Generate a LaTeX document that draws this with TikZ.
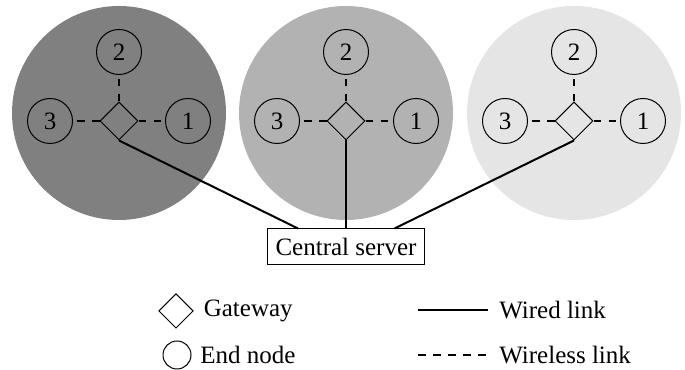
\documentclass[tikz,border=0pt]{standalone}
\usepackage{fontspec}
\setmainfont{Liberation Serif}
\usetikzlibrary{shapes.geometric,positioning}

\begin{document}
\begin{tikzpicture}[x=0.4pt,y=0.4pt,
    zone/.style={circle,minimum size=85.6pt,inner sep=0pt},
    gateway/.style={diamond,draw,thin,minimum size=15.2pt,inner sep=0pt},
    endnode/.style={circle,draw,thin,minimum size=18pt,inner sep=0pt},
    wired/.style={thick},
    wireless/.style={thick,dashed}]
  \useasboundingbox (0,0) rectangle (685,370);
  % coverage areas
  \node[zone,fill=black!50] (za) at (119,257) {};
  \node[zone,fill=black!30] (zb) at (346,257) {};
  \node[zone,fill=black!10] (zc) at (574,257) {};
  % cluster a
  \draw
    (119,249) node[gateway] (ga){}
    (188,249) node[endnode] (a1){1}
    (119,318) node[endnode] (a2){2}
    (50,249) node[endnode] (a3){3};
  % cluster b
  \draw
    (346,249) node[gateway] (gb){}
    (416,249) node[endnode] (b1){1}
    (346,318) node[endnode] (b2){2}
    (277,249) node[endnode] (b3){3};
  % cluster c
  \draw
    (574,249) node[gateway] (gc){}
    (643,249) node[endnode] (c1){1}
    (574,318) node[endnode] (c2){2}
    (505,249) node[endnode] (c3){3};
  \node[draw,thin,minimum height=14.4pt] (server) at (346,123) {Central server};
  \begin{scope}[wireless]
    \draw (ga) to (a1);
    \draw (ga) to (a2);
    \draw (ga) to (a3);
    \draw (gb) to (b1);
    \draw (gb) to (b2);
    \draw (gb) to (b3);
    \draw (gc) to (c1);
    \draw (gc) to (c2);
    \draw (gc) to (c3);
  \end{scope}
  \begin{scope}[wired]
    \draw (ga.south) to ([xshift=-19.2pt]server.north);
    \draw (gb.south) to (server.north);
    \draw (gc.south) to ([xshift=19.4pt]server.north);
  \end{scope}
  % legend
  \node[gateway,minimum size=13.8pt] (lgw) at (176,59) {};
  \node[right=0.5pt of lgw] (lgwtext) {Gateway};
  \node[endnode,minimum size=11.2pt] (lend) at (177,15) {};
  \node[right=0pt of lend] (lendtext) {End node};
  \coordinate (wda) at (418,60);
  \coordinate (wdb) at (488,60);
  \coordinate (wsa) at (418,15);
  \coordinate (wsb) at (488,15);
  \draw[wired] (wda) -- (wdb);
  \draw[wireless] (wsa) -- (wsb);
  \node[right=1pt of wdb] (wdtext) {Wired link};
  \node[right=1pt of wsb] (wstext) {Wireless link};
\end{tikzpicture}
\end{document}
